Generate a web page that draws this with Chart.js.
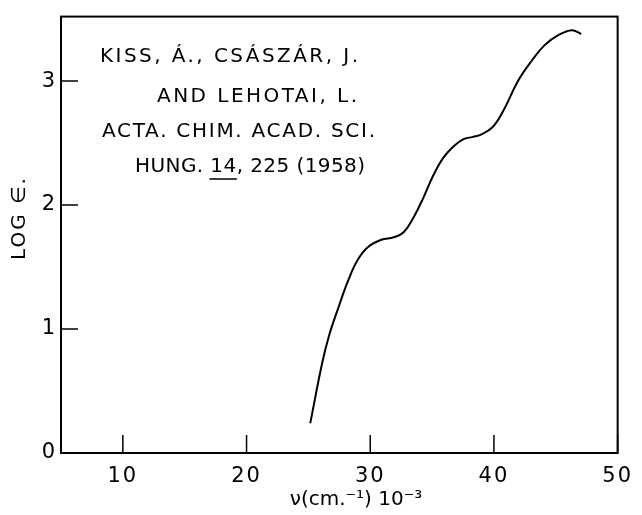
<!DOCTYPE html>
<html>
<head>
<meta charset="utf-8">
<script src="https://cdn.jsdelivr.net/npm/chart.js@4/dist/chart.umd.min.js"></script>
<style>
  html, body { margin: 0; padding: 0; background: #fff; }
  #wrap { width: 642px; height: 515px; }
</style>
</head>
<body>
<div id="wrap"><canvas id="spectrum" width="642" height="515"></canvas></div>
<script>
// wavenumber (cm-1 x 10^-3) and log epsilon
const nu = [25.15, 26.1, 26.65, 27.45, 28.25, 29.0, 29.8, 30.9, 31.9, 32.7, 33.5, 34.3, 35.1, 35.9, 36.7, 37.5, 38.3, 39.0, 39.9, 40.7, 42.0, 43.1, 44.1, 45.2, 46.3, 47.05];
const logEps = [0.24, 0.72, 0.94, 1.18, 1.40, 1.56, 1.66, 1.72, 1.74, 1.78, 1.90, 2.06, 2.24, 2.38, 2.47, 2.53, 2.55, 2.57, 2.63, 2.75, 3.01, 3.17, 3.29, 3.37, 3.41, 3.38];

const xTicks = [10, 20, 30, 40, 50];
const yTicks = [0, 1, 2, 3];

const refLines = [
  "KISS, Á., CSÁSZÁR, J.",
  "AND LEHOTAI, L.",
  "ACTA. CHIM. ACAD. SCI.",
  "HUNG. 14, 225 (1958)"
];

const FONT = "DejaVu Sans";

// fill text so it spans a given width by adjusting the letter spacing
function spreadText(ctx, text, x, y, width) {
  ctx.letterSpacing = "0px";
  const w = ctx.measureText(text).width;
  const ls = (width - w) / (text.length - 1);
  ctx.letterSpacing = ls + "px";
  ctx.fillText(text, x, y);
  return ls;
}

const paperPlugin = {
  id: "paper",
  beforeDraw(chart) {
    chart.ctx.letterSpacing = "2px";
  },
  afterDraw(chart) {
    const ctx = chart.ctx;
    const a = chart.chartArea;
    const xs = chart.scales.x, ys = chart.scales.y;
    ctx.save();
    ctx.letterSpacing = "0px";
    ctx.strokeStyle = "#000";

    // frame
    ctx.lineWidth = 2;
    ctx.strokeRect(a.left, a.top, a.right - a.left, a.bottom - a.top);

    // inward tick marks
    ctx.lineWidth = 1.5;
    ctx.beginPath();
    xTicks.forEach(v => {
      const px = xs.getPixelForValue(v);
      ctx.moveTo(px, a.bottom);
      ctx.lineTo(px, a.bottom - 18);
    });
    yTicks.forEach(v => {
      if (v === 0) return;
      const py = ys.getPixelForValue(v);
      ctx.moveTo(a.left, py);
      ctx.lineTo(a.left + 17, py);
    });
    ctx.stroke();

    // reference block
    ctx.fillStyle = "#000";
    ctx.font = "20px " + FONT;
    ctx.textBaseline = "middle";
    ctx.textAlign = "left";
    spreadText(ctx, refLines[0], 100, 57, 258);
    spreadText(ctx, refLines[1], 157, 97, 200);
    spreadText(ctx, refLines[2], 102, 132, 273);
    const ls = spreadText(ctx, refLines[3], 135, 167, 230);

    // underline the volume number
    ctx.letterSpacing = "0px";
    const pre = "HUNG. ";
    const x0 = 135 + ctx.measureText(pre).width + pre.length * ls;
    const x1 = x0 + ctx.measureText("14").width + ls;
    ctx.lineWidth = 1.5;
    ctx.beginPath();
    ctx.moveTo(x0 - 1, 179);
    ctx.lineTo(x1 - ls + 1, 179);
    ctx.stroke();

    // x axis title
    ctx.font = "20px " + FONT;
    ctx.textAlign = "center";
    ctx.letterSpacing = "0px";
    ctx.fillText("ν(cm.⁻¹) 10⁻³", 356, 500);

    // y axis title
    ctx.translate(20, 218);
    ctx.rotate(-Math.PI / 2);
    ctx.letterSpacing = "2px";
    ctx.fillText("LOG ∈.", 0, 0);
    ctx.restore();
  }
};

new Chart(document.getElementById("spectrum"), {
  type: "scatter",
  data: {
    datasets: [{
      data: nu.map((v, i) => ({ x: v, y: logEps[i] })),
      showLine: true,
      borderColor: "#000",
      borderWidth: 2,
      pointRadius: 0,
      tension: 0.4,
      fill: false
    }]
  },
  options: {
    responsive: false,
    animation: false,
    devicePixelRatio: 1,
    layout: { padding: { top: 16, right: 15, left: 0, bottom: 0 } },
    plugins: { legend: { display: false }, tooltip: { enabled: false } },
    scales: {
      x: {
        type: "linear",
        min: 5,
        max: 50,
        afterFit(s) { s.height = 62; },
        afterBuildTicks(s) { s.ticks = xTicks.map(v => ({ value: v })); },
        grid: { display: false, drawTicks: false },
        border: { display: false },
        ticks: {
          color: "#000",
          padding: 11,
          font: { family: FONT, size: 21 }
        }
      },
      y: {
        type: "linear",
        min: 0,
        max: 3.52,
        afterFit(s) { s.width = 61; },
        afterBuildTicks(s) { s.ticks = yTicks.map(v => ({ value: v })); },
        grid: { display: false, drawTicks: false },
        border: { display: false },
        ticks: {
          color: "#000",
          padding: 4,
          font: { family: FONT, size: 21 }
        }
      }
    }
  },
  plugins: [paperPlugin]
});
</script>
</body>
</html>
